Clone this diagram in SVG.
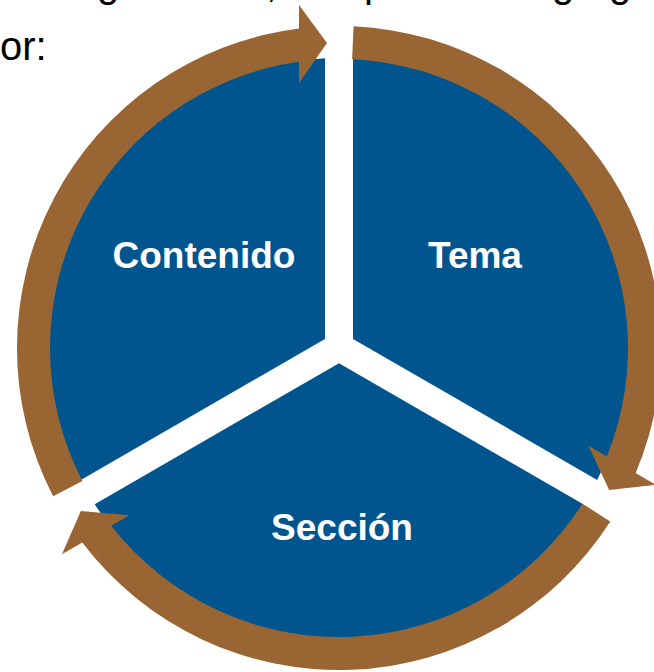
<svg xmlns="http://www.w3.org/2000/svg" xmlns:xlink="http://www.w3.org/1999/xlink" width="654" height="672" viewBox="0 0 654 672">
  <style>
    .sector { fill: #00558F; }
    .label { fill: #FFFFFF; font-family: "Liberation Sans", Arial, sans-serif; font-weight: bold; font-size: 37px; text-anchor: middle; }
    .body { fill: #000000; font-family: "Liberation Sans", Arial, sans-serif; font-size: 40px; }
    .arrow { fill: #996633; }
  </style>
  <defs>
    <path id="cycleArrow" class="arrow" d="M 82.4 481 L 53.1 496.2 A 322 322 0 0 1 299 28.5 L 299 5 L 327 43 L 299 83 L 299 61.8 A 289 289 0 0 0 82.4 481 Z"/>
  </defs>
  <rect x="0" y="0" width="654" height="672" fill="#FFFFFF"/>
  <g id="intro-text">
    <text class="body" x="97" y="-3">g</text>
    <text class="body" x="266" y="-3">,</text>
    <text class="body" x="364" y="-3">p</text>
    <text class="body" x="552" y="-3">g</text>
    <text class="body" x="609" y="-3">g</text>
    <text class="body" x="0" y="60">or:</text>
  </g>
  <g id="node-contenido">
    <path class="sector" d="M 325 338.9 L 80.8 480 A 290 290 0 0 1 325 58.3 Z"/>
    <text class="label" x="204" y="268">Contenido</text>
  </g>
  <g id="node-tema">
    <path class="sector" d="M 353 338.9 L 353 58.3 A 290 290 0 0 1 597.2 480 Z"/>
    <text class="label" x="475" y="268">Tema</text>
  </g>
  <g id="node-seccion">
    <path class="sector" d="M 339 363.2 L 583.3 504.2 A 290 290 0 0 1 94.7 504.2 Z"/>
    <text class="label" x="342" y="540">Sección</text>
  </g>
  <g id="connectors">
    <use xlink:href="#cycleArrow" href="#cycleArrow"/>
    <use xlink:href="#cycleArrow" href="#cycleArrow" transform="rotate(120 339 348)"/>
    <use xlink:href="#cycleArrow" href="#cycleArrow" transform="rotate(240 339 348)"/>
  </g>
</svg>
